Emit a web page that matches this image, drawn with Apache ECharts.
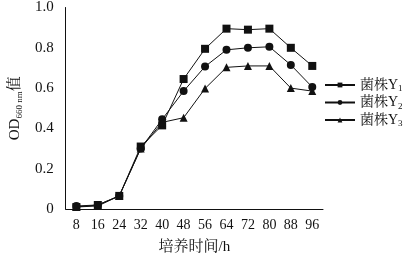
<!DOCTYPE html>
<html><head><meta charset="utf-8">
<script src="https://cdn.jsdelivr.net/npm/echarts@6/dist/echarts.min.js"></script>
<style>html,body{margin:0;padding:0;background:#fff}#c{width:411px;height:260px}</style>
</head><body><div id="c"></div>
<script>
var categories = ['8','16','24','32','40','48','56','64','72','80','88','96'];
var y1 = [0.01, 0.02, 0.065, 0.31, 0.415, 0.645, 0.795, 0.895, 0.89, 0.895, 0.80, 0.71];
var y2 = [0.015, 0.02, 0.065, 0.30, 0.445, 0.585, 0.707, 0.79, 0.80, 0.805, 0.715, 0.605];
var y3 = [0.01, 0.015, 0.065, 0.30, 0.43, 0.453, 0.598, 0.703, 0.71, 0.71, 0.60, 0.585];
var seriesNames = ['菌株Y1','菌株Y2','菌株Y3'];
var subs = ['1','2','3'];
var FONT = '"Liberation Serif","Noto Serif CJK SC","Noto Sans CJK SC",serif';
var chart = echarts.init(document.getElementById('c'));
function mk(name, data, sym, size){
  return {name:name, type:'line', data:data, symbol:sym, symbolSize:size,
    lineStyle:{color:'#111', width:1}, itemStyle:{color:'#111'}, animation:false};
}
chart.setOption({
  animation:false,
  grid:{left:58, right:88, top:6, bottom:47},
  legend:{orient:'vertical', left:324, top:78, padding:0, itemGap:2, itemWidth:30, itemHeight:6,
    data:seriesNames,
    formatter:function(n){var i=seriesNames.indexOf(n);return '{a|菌株Y}{s|'+subs[i]+'}';},
    textStyle:{rich:{a:{fontFamily:FONT,fontSize:14,color:'#111'},s:{fontFamily:FONT,fontSize:9,color:'#111',verticalAlign:'bottom',padding:[8,0,0,0]}}}},
  xAxis:{type:'category', data:categories, boundaryGap:true,
    axisLine:{lineStyle:{color:'#111',width:1}}, axisTick:{show:false},
    axisLabel:{color:'#111', fontFamily:FONT, fontSize:14, margin:9},
    name:'培养时间/h', nameLocation:'middle', nameGap:31,
    nameTextStyle:{color:'#111', fontFamily:FONT, fontSize:15}},
  yAxis:{type:'value', min:0, max:1, interval:0.2,
    axisLine:{show:true, lineStyle:{color:'#111',width:1}}, axisTick:{show:false}, splitLine:{show:false},
    axisLabel:{color:'#111', fontFamily:FONT, fontSize:15, margin:12,
      formatter:function(v){return v===0?'0':v.toFixed(1);}},
    name:'{a|OD}{s|660 nm}{a|值}', nameLocation:'middle', nameGap:40, nameRotate:90,
    nameTextStyle:{rich:{a:{fontFamily:FONT,fontSize:15,color:'#111'},s:{fontFamily:FONT,fontSize:9,color:'#111',padding:[8,0,0,0]}}}},
  series:[mk(seriesNames[0], y1, 'rect', 8), mk(seriesNames[1], y2, 'circle', 8), mk(seriesNames[2], y3, 'triangle', 8)]
});
</script></body></html>
